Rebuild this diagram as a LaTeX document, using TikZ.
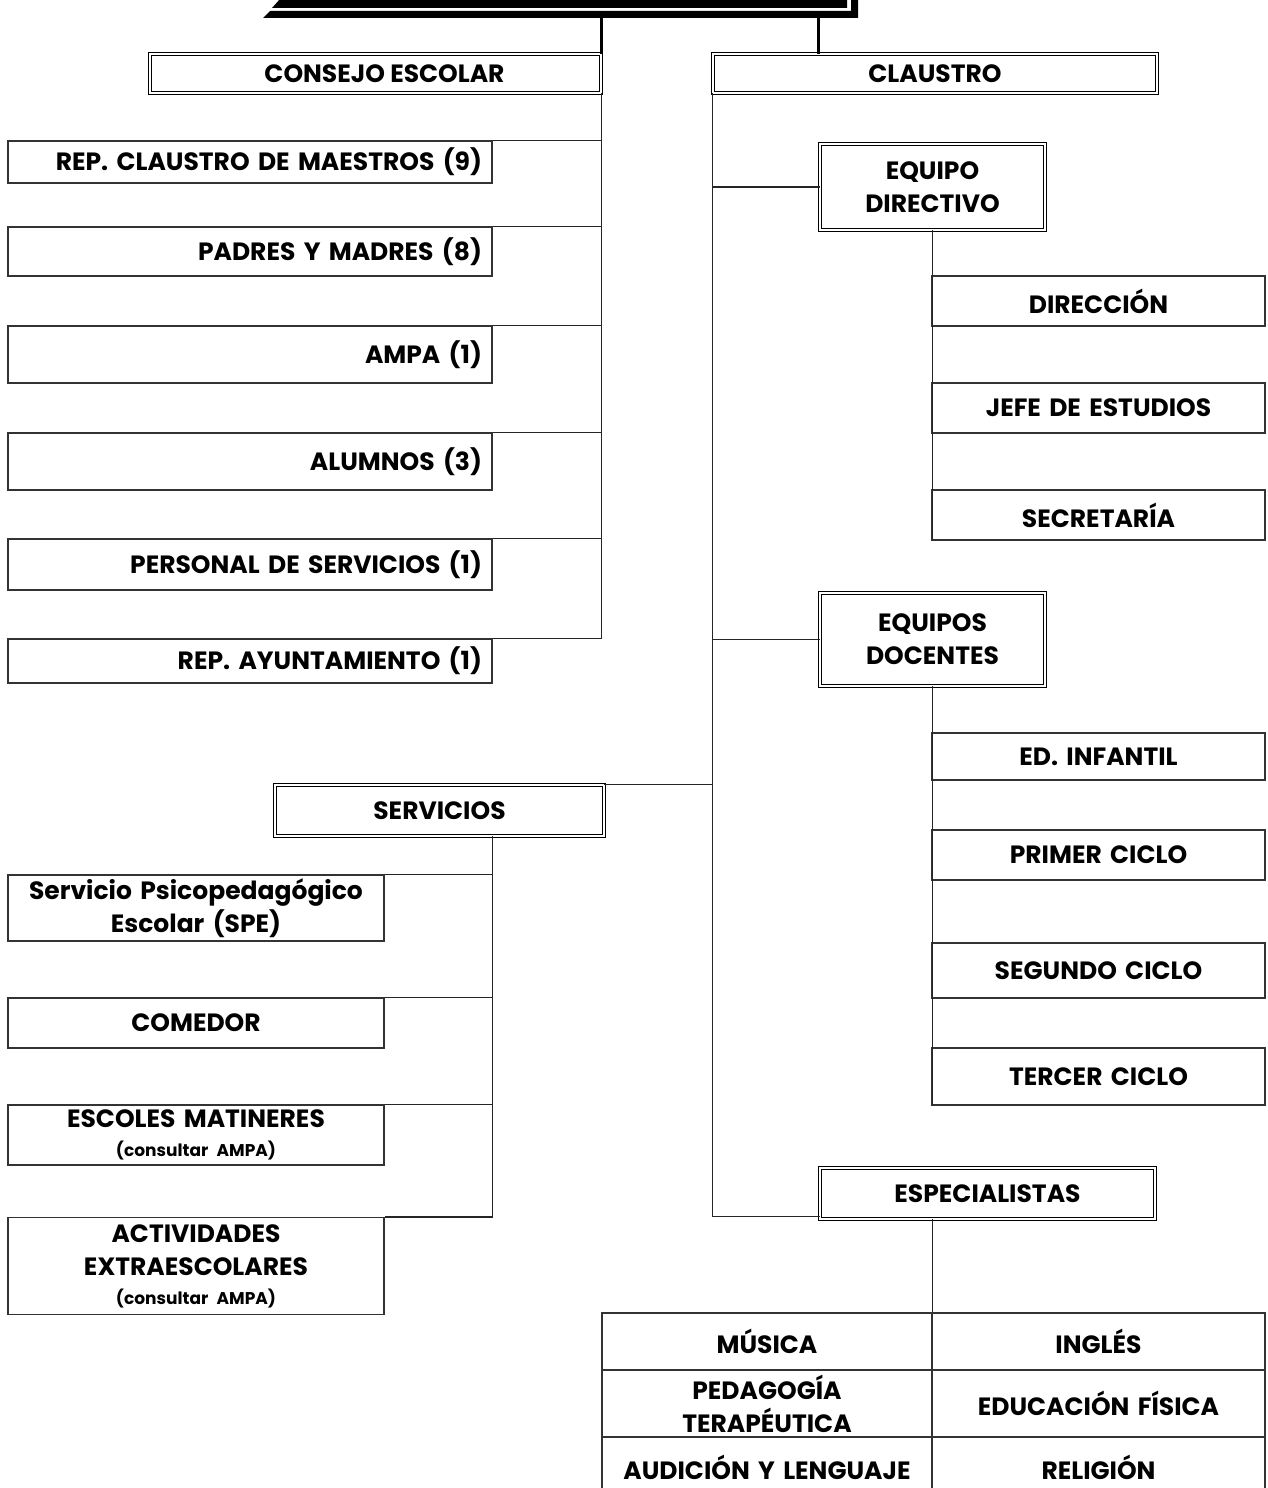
\documentclass[tikz,border=0pt]{standalone}
\usepackage{fontspec}
\setmainfont{Poppins}
\usetikzlibrary{calc}
\begin{document}
\begin{tikzpicture}[x=1pt,y=-1pt,
  every node/.style={font=\fontsize{25}{33}\selectfont\bfseries, text=black},
  ln/.style={line width=1.3pt, draw=black!85},
  lbox/.style={draw=black!80, line width=1.3pt, minimum width=484pt, text width=464pt, inner xsep=10pt, inner ysep=0pt, align=right},
  rbox/.style={draw=black!80, line width=1.3pt, minimum width=333pt, text width=313pt, inner xsep=10pt, inner ysep=0pt, align=center},
  sbox/.style={draw=black!80, line width=1.3pt, minimum width=376pt, text width=356pt, inner xsep=10pt, inner ysep=0pt, align=center},
  dbox/.style={draw=black, line width=0.9pt, double, double distance=2.6pt, inner sep=0pt, align=center},
  cell/.style={draw=black!80, line width=1.3pt, text width=310pt, inner xsep=10pt, inner ysep=0pt, align=center}
]
\useasboundingbox (0,0) rectangle (1268,1488);

% top box (cut off by the page edge)
\node[minimum width=595pt, minimum height=40pt, inner sep=0pt] (top) at (560.5,-2) {};
\fill (263,18) -- (270,11) -- (851,11) -- (851,-5) -- (858,-5) -- (858,18) -- cycle;
\fill (272,8) -- (280,-1) -- (847,-1) -- (847,8) -- cycle;

% CONSEJO ESCOLAR / CLAUSTRO
\node[dbox, minimum width=451pt, minimum height=39pt] (ce) at (375.5,73.5) {\hspace*{18pt}CONSEJO ESCOLAR};
\node[dbox, minimum width=444pt, minimum height=39pt] (cl) at (935,73.5) {CLAUSTRO};

\draw[line width=2.5pt] (ce.north east |- top.south) -- (ce.north east);
\draw[line width=2.5pt] ([xshift=106pt]cl.north west |- top.south) -- ([xshift=106pt]cl.north west);

% left column
\node[lbox, minimum height=42pt] (r1) at (250,162) {REP. CLAUSTRO DE MAESTROS (9)};
\node[lbox, minimum height=49pt] (r2) at (250,251.5) {PADRES Y MADRES (8)};
\node[lbox, minimum height=57pt] (r3) at (250,354.5) {AMPA (1)};
\node[lbox, minimum height=57pt] (r4) at (250,461.5) {ALUMNOS (3)};
\node[lbox, minimum height=51pt] (r5) at (250,564.5) {PERSONAL DE SERVICIOS (1)};
\node[lbox, minimum height=44pt] (r6) at (250,661) {REP. AYUNTAMIENTO (1)};

\draw[ln] (ce.south east) -- (ce.south east |- r6.north) -- (r6.north east);
\foreach \n in {r1,r2,r3,r4,r5}
  \draw[ln] (\n.north east) -- (\n.north east -| ce.south east);

% claustro branch
\node[dbox, minimum width=225pt, minimum height=86pt] (ed) at (932.5,187) {EQUIPO\\DIRECTIVO};
\node[dbox, minimum width=225pt, minimum height=93pt] (ds) at (932.5,639.5) {EQUIPOS\\DOCENTES};
\node[dbox, minimum width=329pt, minimum height=51pt] (sv) at (439.5,810.5) {SERVICIOS};
\node[dbox, minimum width=335pt, minimum height=51pt] (sp) at (987.5,1193.5) {ESPECIALISTAS};

\coordinate (spin) at ($(sp.south west)+(0,-3)$);
\draw[ln] (cl.south west) -- (cl.south west |- spin) -- (spin);
\draw[ln] (ed.west) -- (ed.west -| cl.south west);
\draw[ln] (ds.west) -- (ds.west -| cl.south west);
\draw[ln] (sv.north east) -- (sv.north east -| cl.south west);

% equipo directivo
\node[rbox, minimum height=50pt] (dir) at (1098.5,301) {DIRECCIÓN};
\node[rbox, minimum height=50pt] (jef) at (1098.5,408) {JEFE DE ESTUDIOS};
\node[rbox, minimum height=50pt] (sec) at (1098.5,515) {SECRETARÍA};
\draw[ln] (ed.south) -- (ed.south |- sec.south);

% equipos docentes
\node[rbox, minimum height=47pt] (edi) at (1098.5,756.5) {ED. INFANTIL};
\node[rbox, minimum height=50pt] (pc) at (1098.5,855) {PRIMER CICLO};
\node[rbox, minimum height=55pt] (sc) at (1098.5,970.5) {SEGUNDO CICLO};
\node[rbox, minimum height=57pt] (tc) at (1098.5,1076.5) {TERCER CICLO};
\draw[ln] (ds.south) -- (ds.south |- tc.south);

% servicios
\node[sbox, minimum height=66pt] (spe) at (196,908) {Servicio Psicopedagógico\\Escolar (SPE)};
\node[sbox, minimum height=50pt] (com) at (196,1023) {COMEDOR};
\node[sbox, minimum height=60pt] (esc) at (196,1135) {ESCOLES MATINERES\\[-4pt]{\fontsize{17}{20}\selectfont(consultar AMPA)}};
\node[sbox, minimum height=97pt] (act) at (196,1266) {ACTIVIDADES\\EXTRAESCOLARES\\[-4pt]{\fontsize{17}{20}\selectfont(consultar AMPA)}};
\draw[ln] (sv.south -| r1.east) -- (act.north -| r1.east) -- (act.north east);
\foreach \n in {spe,com,esc}
  \draw[ln] (\n.north east) -- (\n.north east -| r1.east);

% especialistas table
\node[cell, minimum width=330pt, minimum height=57pt] (mus) at (767,1341.5) {MÚSICA};
\node[cell, minimum width=333pt, minimum height=57pt] (ing) at (1098.5,1341.5) {INGLÉS};
\node[cell, minimum width=330pt, minimum height=67pt] (ped) at (767,1403.5) {PEDAGOGÍA\\TERAPÉUTICA};
\node[cell, minimum width=333pt, minimum height=67pt] (edf) at (1098.5,1403.5) {EDUCACIÓN FÍSICA};
\node[cell, minimum width=330pt, minimum height=60pt] (aud) at (767,1467) {AUDICIÓN Y LENGUAJE};
\node[cell, minimum width=333pt, minimum height=60pt] (rel) at (1098.5,1467) {RELIGIÓN};
\draw[ln] (mus.north east |- sp.south) -- (mus.north east);
\end{tikzpicture}
\end{document}
